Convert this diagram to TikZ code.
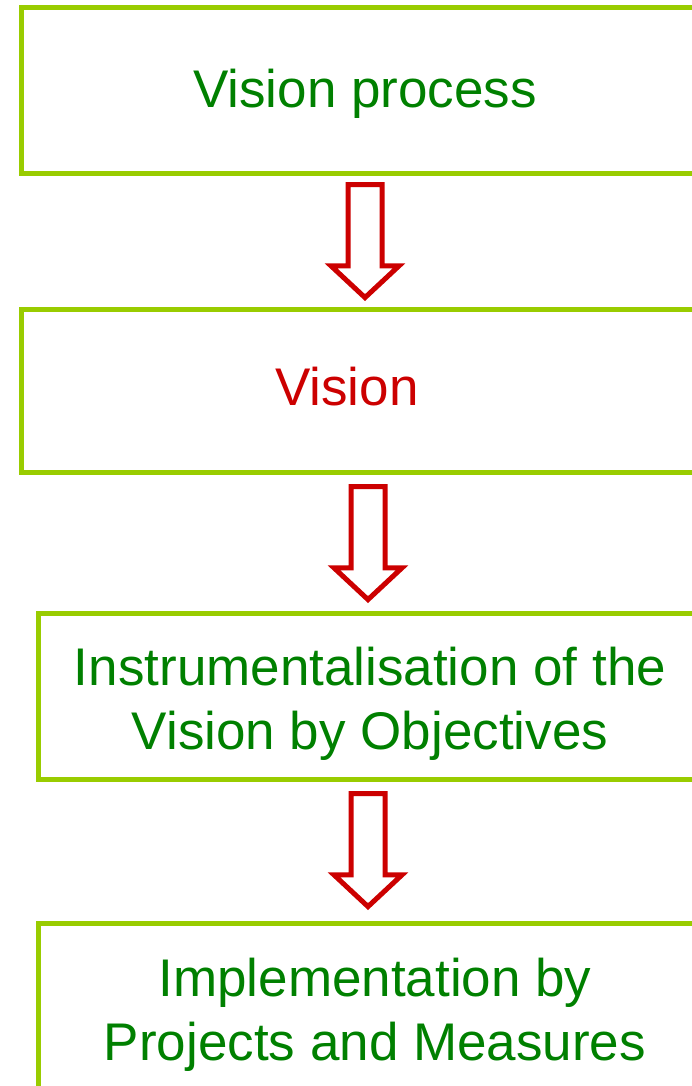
\documentclass[tikz,border=0pt]{standalone}
\usepackage{fontspec}
\setmainfont{Liberation Sans}
\usetikzlibrary{shapes.arrows}

\definecolor{framegreen}{HTML}{99CC00}
\definecolor{textgreen}{HTML}{008000}
\definecolor{arrowred}{HTML}{CC0000}

\tikzset{
	stagebox/.style={draw=framegreen, line width=5pt, rectangle, inner sep=0pt},
	stagetext/.style={align=center, text=textgreen, inner sep=0pt,
		font=\fontsize{53}{64}\selectfont},
	downarrow/.style={single arrow, draw=arrowred, fill=white, line width=5pt,
		rotate=-90, anchor=tip, minimum height=113pt, inner xsep=0pt,
		inner ysep=14.5pt, single arrow head extend=17pt,
		single arrow tip angle=94}
}

\begin{document}
\begin{tikzpicture}[x=1pt, y=-1pt]
		\clip (0,0) rectangle (692,1086);
		% stages
		\node at (365,91) [stagebox, minimum width=687, minimum height=166]
		(process) {};
		\node at (365,93.3) [stagetext] (processtext) {Vision process};
		\node at (365.5,390.5) [stagebox, minimum width=689, minimum height=163]
		(vision) {};
		\node at (347,387) [stagetext, text=arrowred] (visiontext) {Vision};
		\node at (370,696) [stagebox, minimum width=664, minimum height=166]
		(objectives) {};
		\node at (370,704) [stagetext]
		(objectivestext) {Instrumentalisation of the \\ Vision by Objectives};
		\node at (375,1008) [stagebox, minimum width=674, minimum height=170]
		(projects) {};
		\node at (375,1015) [stagetext]
		(projectstext) {Implementation by \\ Projects and Measures};
		% block arrows between the stages
		\node at (365,301) [downarrow] (arrowone) {};
		\node at (368,603) [downarrow] (arrowtwo) {};
		\node at (368,910) [downarrow] (arrowthree) {};
\end{tikzpicture}
\end{document}
